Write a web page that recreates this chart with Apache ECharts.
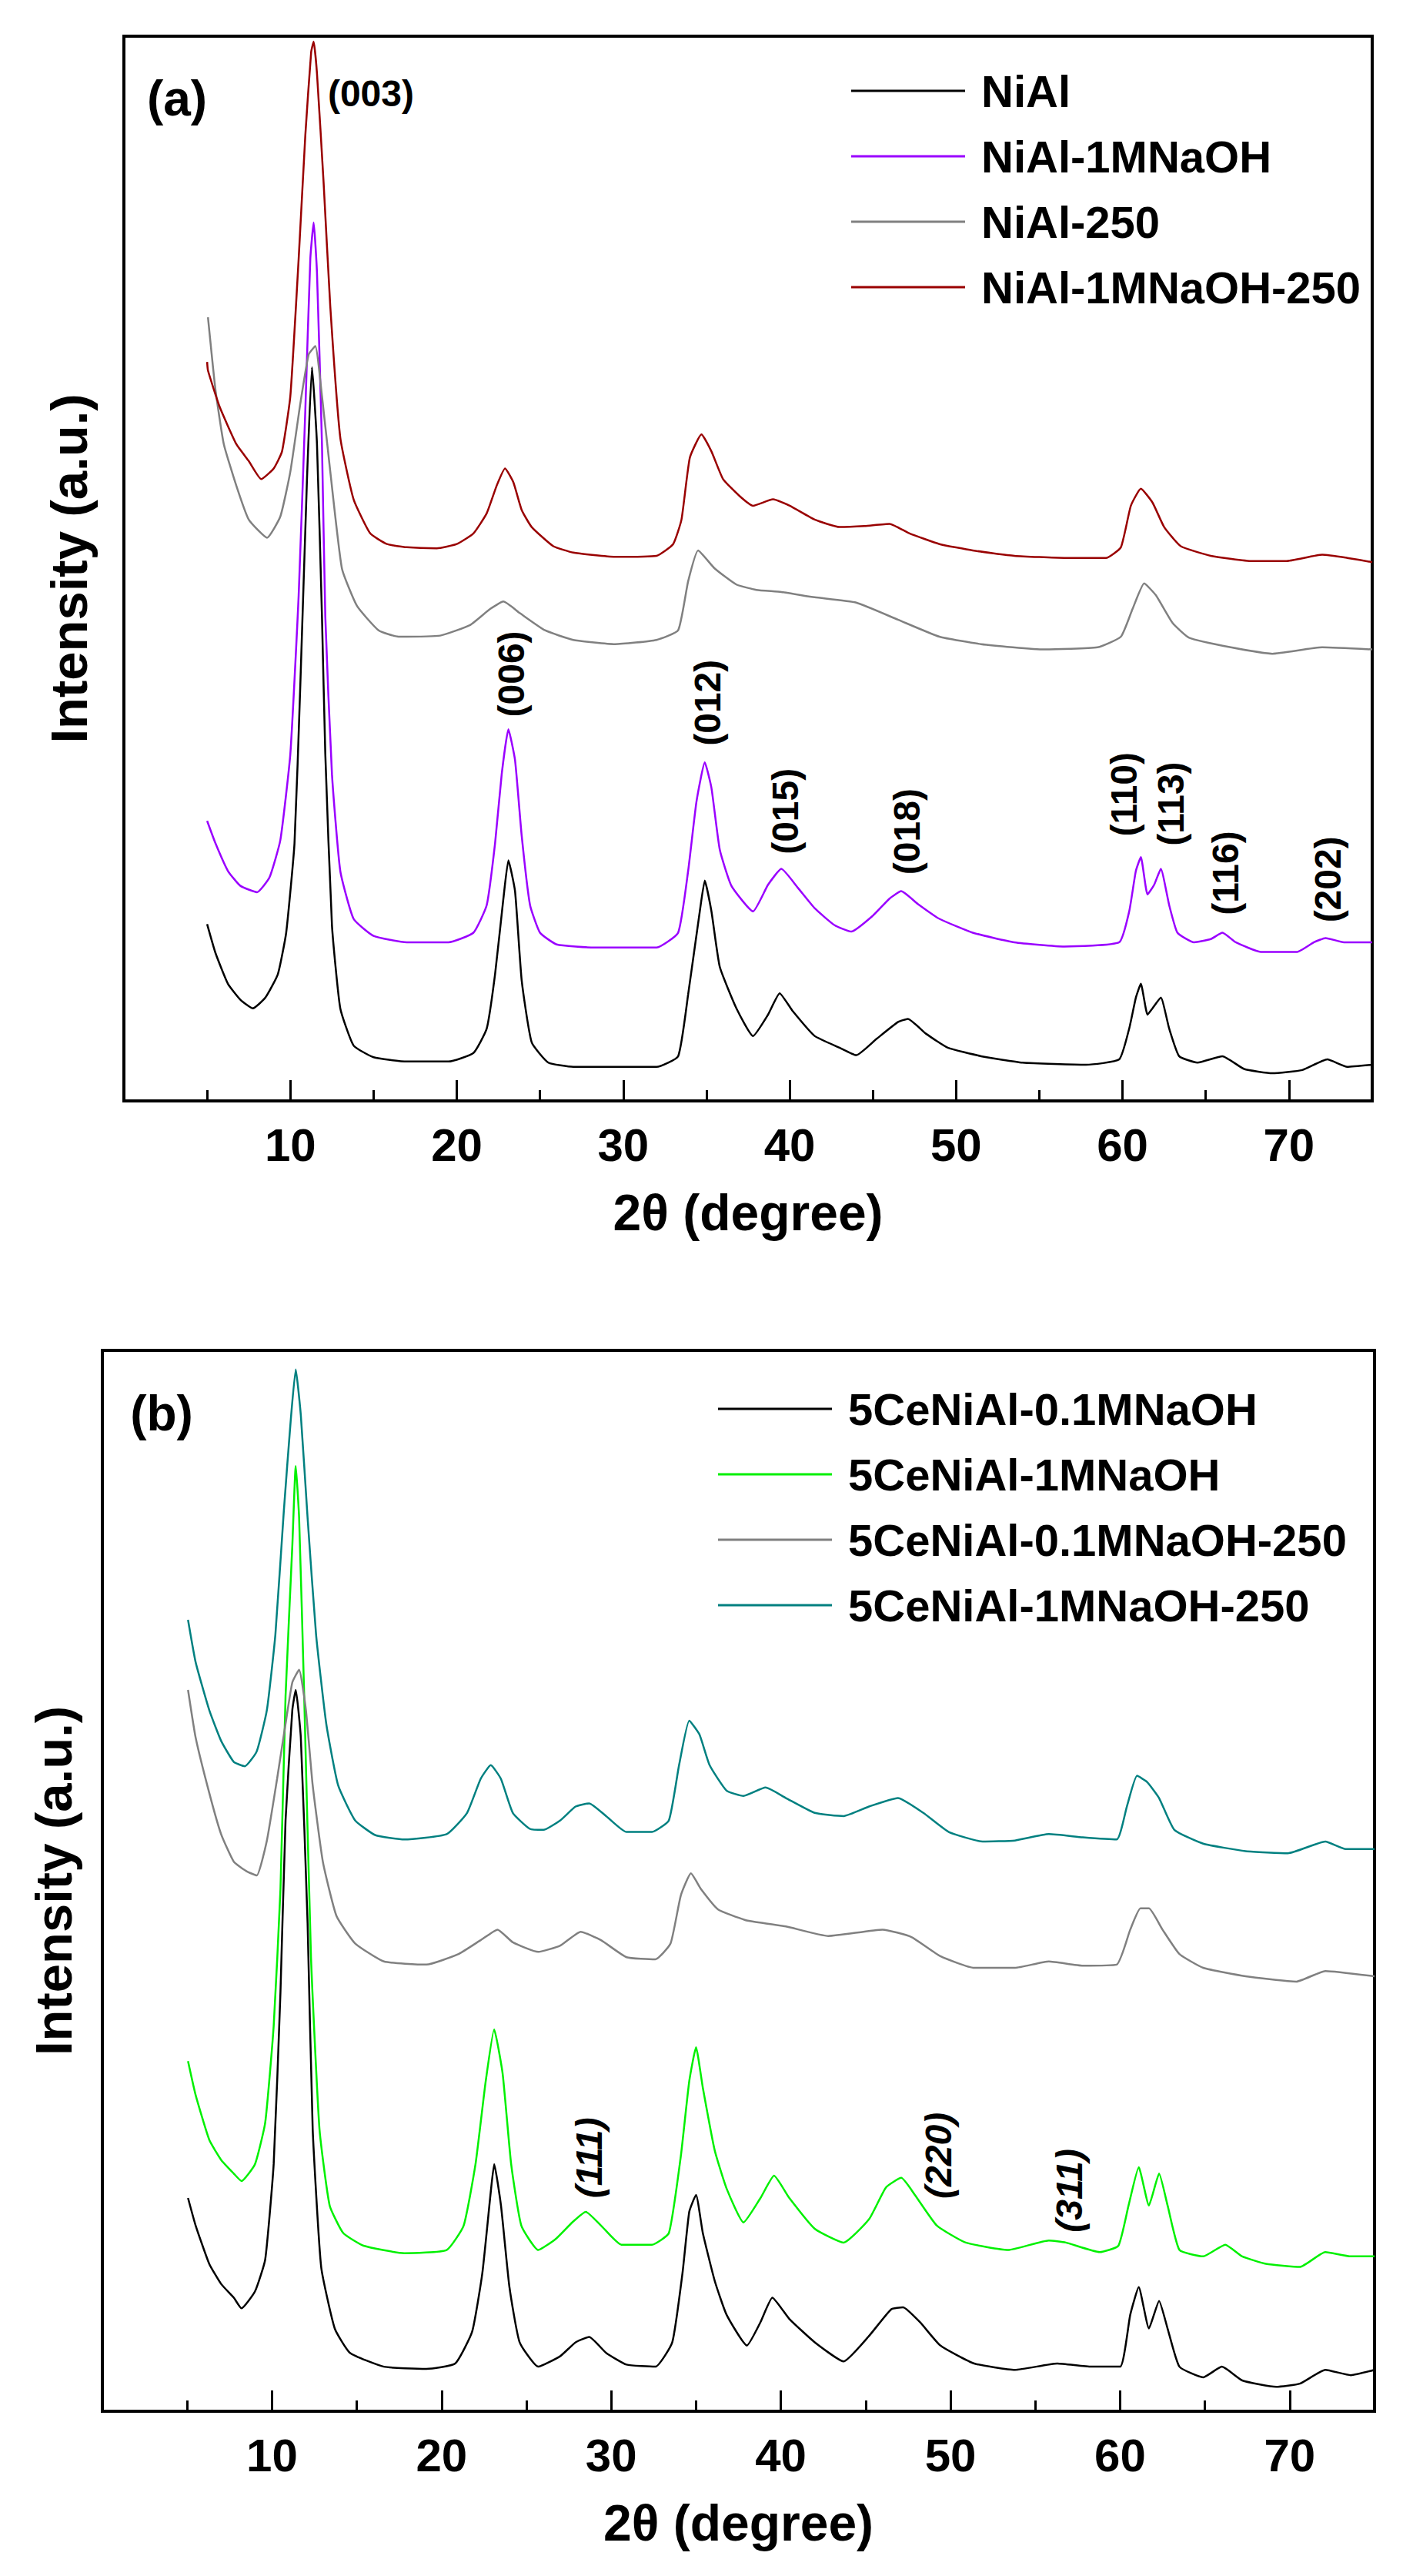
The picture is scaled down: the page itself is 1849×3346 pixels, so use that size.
<!DOCTYPE html>
<html>
<head>
<meta charset="utf-8">
<script src="https://cdn.jsdelivr.net/npm/echarts@6/dist/echarts.min.js"></script>
<style>
  html, body { margin: 0; padding: 0; background: #fff; }
  #xrd { width: 1849px; height: 3346px; }
</style>
</head>
<body>
<div id="xrd"></div>
<script>
// panel (a): [2theta, intensity], offset stack in plot %
var niAl = [[5.0,16.6],[5.5,13.9],[6.25,11.0],[7.0,9.5],[7.75,8.7],[8.5,9.7],[9.25,11.9],[9.75,15.8],[10.25,24.2],[10.6,39.1],[11.0,58.4],[11.3,68.9],[11.6,61.7],[11.9,45.5],[12.1,32.6],[12.5,16.5],[13.0,8.7],[13.8,5.2],[15.0,4.1],[17.0,3.7],[19.5,3.7],[21.0,4.5],[21.8,6.8],[22.3,11.9],[22.8,19.0],[23.1,22.6],[23.5,19.7],[23.9,11.3],[24.5,5.5],[25.5,3.6],[27.0,3.2],[32.0,3.2],[33.3,4.2],[33.9,10.0],[34.6,17.8],[34.9,20.7],[35.3,17.8],[35.8,12.6],[36.8,8.7],[37.8,6.1],[38.7,8.1],[39.4,10.1],[40.2,8.4],[41.5,6.1],[43.0,5.0],[44.0,4.3],[45.2,5.8],[46.5,7.4],[47.1,7.7],[48.2,6.3],[49.5,5.0],[51.5,4.2],[54.0,3.6],[57.8,3.4],[59.8,3.9],[60.4,6.8],[60.8,9.7],[61.1,11.0],[61.5,8.1],[61.8,8.7],[62.3,9.7],[62.8,6.8],[63.4,4.2],[64.5,3.6],[66.0,4.2],[67.3,3.0],[69.0,2.6],[70.8,2.9],[72.3,3.9],[73.5,3.2],[75.0,3.4]];
var niAlNaOH = [[5.0,26.3],[5.5,24.2],[6.25,21.6],[7.0,20.2],[8.0,19.6],[8.75,21.0],[9.4,24.5],[10.0,32.6],[10.5,47.5],[10.9,64.9],[11.2,79.1],[11.4,82.5],[11.6,77.8],[11.9,61.7],[12.1,45.5],[12.5,30.7],[13.0,21.6],[13.8,17.1],[15.0,15.5],[17.0,14.9],[19.5,14.9],[21.0,15.8],[21.8,18.4],[22.3,24.2],[22.7,30.7],[23.1,34.9],[23.5,32.0],[23.9,24.9],[24.4,18.4],[25.0,15.8],[26.0,14.7],[28.3,14.4],[32.0,14.4],[33.3,15.8],[33.9,21.6],[34.4,28.1],[34.9,31.8],[35.3,29.4],[35.8,23.6],[36.5,20.2],[37.8,17.8],[38.7,20.3],[39.5,21.8],[40.5,20.0],[41.5,18.1],[42.7,16.5],[43.7,15.9],[45.0,17.4],[46.0,19.0],[46.7,19.7],[47.7,18.5],[49.0,17.1],[51.0,15.8],[53.5,14.9],[56.5,14.5],[59.8,14.9],[60.4,17.8],[60.8,21.6],[61.1,22.9],[61.5,19.4],[61.9,20.3],[62.3,21.8],[62.8,18.4],[63.3,15.8],[64.3,14.9],[65.3,15.2],[66.0,15.8],[66.8,14.9],[68.3,14.0],[70.5,14.0],[71.5,14.9],[72.2,15.3],[73.3,14.9],[75.0,14.9]];
var niAl250 = [[5.05,73.6],[5.5,66.8],[6.0,61.7],[6.75,57.8],[7.5,54.6],[8.6,52.9],[9.4,54.9],[10.0,59.1],[10.6,65.5],[11.1,70.1],[11.5,70.9],[11.9,66.2],[12.4,59.1],[13.1,50.0],[14.0,46.5],[15.3,44.2],[16.5,43.6],[19.0,43.7],[20.8,44.7],[22.0,46.2],[22.8,46.9],[23.8,45.8],[25.3,44.2],[27.0,43.3],[29.5,42.9],[32.0,43.3],[33.3,44.2],[33.9,48.8],[34.5,51.7],[35.5,50.0],[36.8,48.5],[38.0,48.0],[39.5,47.8],[41.5,47.3],[44.0,46.8],[46.5,45.2],[49.0,43.6],[51.5,42.9],[55.3,42.4],[58.5,42.6],[59.9,43.6],[60.6,46.2],[61.3,48.6],[62.0,47.5],[63.0,44.9],[64.0,43.5],[66.5,42.6],[69.0,42.0],[72.0,42.6],[75.0,42.4]];
var niAlNaOH250 = [[5.0,69.4],[5.05,68.6],[5.75,65.2],[6.75,61.7],[7.5,60.1],[8.25,58.4],[9.0,59.4],[9.5,61.0],[10.0,66.2],[10.5,79.1],[10.9,90.7],[11.25,98.5],[11.4,99.5],[11.6,96.5],[12.0,86.2],[12.4,74.6],[13.0,62.3],[13.8,56.5],[14.8,53.3],[15.8,52.3],[17.0,52.0],[18.8,51.9],[20.0,52.3],[21.0,53.3],[21.8,55.2],[22.4,57.8],[22.9,59.4],[23.4,58.1],[23.9,55.5],[24.5,53.9],[25.8,52.1],[27.0,51.5],[29.5,51.1],[32.0,51.2],[33.0,52.3],[33.5,54.6],[34.0,60.4],[34.7,62.6],[35.3,61.0],[36.0,58.4],[37.0,56.8],[37.8,55.9],[39.0,56.5],[40.0,55.9],[41.5,54.6],[43.0,53.9],[44.5,54.0],[46.0,54.2],[47.2,53.3],[49.0,52.3],[51.0,51.7],[53.5,51.2],[56.5,51.0],[59.0,51.0],[59.9,52.0],[60.5,55.9],[61.1,57.5],[61.8,56.2],[62.5,53.9],[63.5,52.1],[65.3,51.2],[67.8,50.7],[69.8,50.7],[72.0,51.3],[73.5,51.0],[75.0,50.6]];

// panel (b)
var ce01 = [[5.05,20.1],[5.5,17.5],[6.3,13.9],[7.0,12.0],[7.75,10.7],[8.2,9.7],[9.0,11.3],[9.6,14.3],[10.1,23.3],[10.5,39.5],[10.8,55.7],[11.2,66.1],[11.4,68.0],[11.7,63.5],[12.1,46.0],[12.4,26.6],[12.9,13.6],[13.7,7.8],[14.6,5.5],[16.6,4.2],[19.1,4.0],[20.8,4.5],[21.8,7.5],[22.4,13.0],[22.9,20.7],[23.1,23.3],[23.5,19.4],[24.0,11.7],[24.6,6.5],[25.7,4.2],[27.0,5.2],[27.9,6.5],[28.7,7.0],[29.7,5.5],[30.9,4.4],[32.6,4.2],[33.6,6.5],[34.2,13.0],[34.6,18.8],[35.0,20.4],[35.4,16.8],[36.1,12.3],[36.8,9.1],[38.0,6.2],[38.8,8.4],[39.5,10.7],[40.5,8.7],[42.0,6.5],[43.7,4.7],[45.2,7.1],[46.5,9.6],[47.2,9.8],[48.2,8.4],[49.4,6.2],[51.4,4.5],[53.8,3.9],[56.3,4.5],[58.3,4.2],[60.0,4.2],[60.6,9.1],[61.1,11.7],[61.7,7.8],[62.3,10.4],[62.8,7.8],[63.5,4.2],[64.9,3.2],[66.0,4.2],[67.2,2.9],[69.2,2.3],[70.6,2.6],[72.1,3.9],[73.6,3.4],[75.0,3.9]];
var ce1 = [[5.05,33.0],[5.5,29.8],[6.3,25.6],[7.0,23.7],[7.75,22.4],[8.2,21.7],[9.0,23.3],[9.6,27.2],[10.1,36.3],[10.5,49.2],[10.8,67.4],[11.2,81.6],[11.4,89.1],[11.6,84.2],[11.9,67.4],[12.3,42.8],[12.8,26.6],[13.4,19.4],[14.2,16.8],[15.4,15.6],[17.8,14.9],[20.3,15.2],[21.3,17.5],[22.0,23.3],[22.6,31.1],[23.1,36.0],[23.6,31.8],[24.1,23.3],[24.7,17.5],[25.7,15.2],[26.7,16.2],[27.7,17.8],[28.5,18.8],[29.4,17.5],[30.6,15.7],[32.4,15.7],[33.4,16.8],[34.1,24.0],[34.6,31.1],[35.0,34.3],[35.4,30.5],[36.1,24.6],[36.8,21.0],[37.8,17.8],[38.8,20.1],[39.6,22.2],[40.5,20.1],[42.0,17.2],[43.7,15.9],[45.2,18.1],[46.2,21.1],[47.1,22.0],[47.9,20.4],[49.2,17.5],[50.9,15.9],[53.4,15.2],[55.8,16.1],[56.8,15.9],[58.8,15.0],[59.9,15.6],[60.5,19.4],[61.1,23.0],[61.7,19.4],[62.3,22.4],[62.8,19.4],[63.5,15.2],[64.9,14.6],[66.2,15.7],[67.2,14.6],[68.6,13.9],[70.6,13.6],[72.1,15.0],[73.6,14.6],[75.0,14.6]];
var ce01_250 = [[5.05,68.0],[5.5,63.5],[6.3,58.3],[7.0,54.4],[7.75,51.8],[8.5,50.9],[9.1,50.5],[9.7,53.8],[10.3,59.6],[10.8,64.8],[11.2,68.7],[11.6,69.9],[12.0,66.1],[12.4,59.0],[13.0,51.8],[13.8,46.7],[14.9,44.1],[16.6,42.4],[19.1,42.1],[21.0,43.1],[22.3,44.4],[23.3,45.4],[24.2,44.2],[25.7,43.3],[27.0,43.9],[28.2,45.2],[29.4,44.4],[30.9,42.8],[32.6,42.6],[33.5,44.1],[34.1,48.6],[34.7,50.7],[35.3,49.2],[36.3,47.3],[37.9,46.3],[38.6,46.1],[40.3,45.7],[42.8,44.8],[46.0,45.4],[47.7,44.7],[49.4,42.9],[51.4,41.8],[53.8,41.8],[55.8,42.4],[57.8,42.0],[59.8,42.1],[60.6,45.4],[61.2,47.4],[61.7,47.4],[62.5,45.4],[63.5,43.1],[64.9,41.8],[67.4,41.0],[70.4,40.5],[72.1,41.5],[75.0,41.0]];
var ce1_250 = [[5.05,74.6],[5.5,70.6],[6.3,66.1],[7.0,63.2],[7.75,61.2],[8.4,60.8],[9.1,62.2],[9.7,66.1],[10.2,73.2],[10.7,84.9],[11.1,93.3],[11.4,98.2],[11.7,93.9],[12.1,84.2],[12.6,73.2],[13.2,64.8],[13.9,59.0],[14.9,55.7],[16.1,54.3],[17.8,53.9],[20.3,54.4],[21.5,56.4],[22.3,59.6],[22.9,60.9],[23.5,59.6],[24.2,56.4],[25.2,54.9],[26.0,54.8],[27.0,55.7],[27.9,57.0],[28.7,57.3],[29.7,56.1],[30.9,54.6],[32.4,54.6],[33.4,55.7],[34.0,60.9],[34.6,65.1],[35.2,63.8],[35.8,60.9],[36.8,58.5],[37.8,58.0],[39.1,58.8],[40.3,57.8],[42.0,56.4],[43.7,56.1],[45.2,57.0],[46.9,57.8],[48.4,56.4],[49.9,54.6],[51.9,53.7],[53.8,53.8],[55.8,54.4],[57.8,54.1],[59.8,53.9],[60.4,57.0],[61.0,59.9],[61.6,59.3],[62.3,57.8],[63.2,54.8],[64.9,53.5],[67.4,52.8],[69.9,52.6],[72.1,53.7],[73.3,53.0],[75.0,53.0]];

var namesA = ['NiAl', 'NiAl-1MNaOH', 'NiAl-250', 'NiAl-1MNaOH-250'];
var namesB = ['5CeNiAl-0.1MNaOH', '5CeNiAl-1MNaOH', '5CeNiAl-0.1MNaOH-250', '5CeNiAl-1MNaOH-250'];
var colorsA = ['#000000', '#9a00ff', '#808080', '#990000'];
var colorsB = ['#000000', '#00f000', '#808080', '#008080'];

// reflection labels: [text, 2theta, intensity]
var peaksA = [['(006)',23.3,40.1],['(012)',35.07,37.4],['(015)',39.74,27.2],['(018)',47.07,25.3],['(110)',60.1,28.8],['(113)',62.9,27.9],['(116)',66.2,21.4],['(202)',72.35,20.8]];
var peak003 = [['(003)',14.84,94.6]];
var peaksB = [['(111)',28.7,23.9],['(220)',49.3,24.1],['(311)',57.0,20.8]];

var xTicks = [10, 20, 30, 40, 50, 60, 70];

var FONT = "'Liberation Sans', Arial, sans-serif";

var chart = echarts.init(document.getElementById('xrd'), null, { renderer: 'svg' });

function majorAxis(grid) {
	return {
		type: 'value', gridIndex: grid, position: 'bottom',
		min: 0, max: 75, interval: 10,
		axisLine: { show: false },
		axisTick: { inside: true, length: 27, lineStyle: { color: '#000', width: 3 } },
		axisLabel: {
			margin: 27, color: '#000', fontSize: 60, fontWeight: 'bold', fontFamily: FONT,
			formatter: function(v) { return xTicks.indexOf(v) >= 0 ? String(v) : ''; }
		},
		splitLine: { show: false },
		name: '2\u03b8 (degree)', nameLocation: 'middle', nameGap: 112,
		nameTextStyle: { color: '#000', fontSize: 66, fontWeight: 'bold', fontFamily: FONT }
	};
}
function minorAxis(grid) {
	return {
		type: 'value', gridIndex: grid, position: 'bottom',
		min: 0, max: 75, interval: 5,
		axisLine: { show: false },
		axisTick: { inside: true, length: 14, lineStyle: { color: '#000', width: 3 } },
		axisLabel: { show: false },
		splitLine: { show: false }
	};
}
function yAxis(grid, gap) {
	return {
		type: 'value', gridIndex: grid, min: 0, max: 100,
		axisLine: { show: false }, axisTick: { show: false }, axisLabel: { show: false },
		splitLine: { show: false },
		name: 'Intensity (a.u.)', nameLocation: 'middle', nameGap: gap,
		nameTextStyle: { color: '#000', fontSize: 67, fontWeight: 'bold', fontFamily: FONT }
	};
}
function lineSeries(name, data, color, xi, yi) {
	return {
		name: name, type: 'line', data: data, xAxisIndex: xi, yAxisIndex: yi,
		showSymbol: false, smooth: 0.15, animation: false,
		lineStyle: { color: color, width: 2.5 }, itemStyle: { color: color }
	};
}
function labelSeries(list, xi, yi, rotate, italic, size) {
	return {
		type: 'scatter', xAxisIndex: xi, yAxisIndex: yi, symbolSize: 0, animation: false,
		silent: true,
		itemStyle: { color: '#000', opacity: 1 },
		data: list.map(function(p) { return { value: [p[1], p[2]], name: p[0] }; }),
		label: {
			show: true, position: 'inside', rotate: rotate, formatter: '{b}',
			color: '#000', opacity: 1, textBorderWidth: 0, fontSize: size, fontWeight: 'bold',
			fontStyle: italic ? 'italic' : 'normal', fontFamily: FONT
		}
	};
}
function legendFor(names, colors, left, top) {
	return {
		orient: 'vertical', left: left, top: top,
		itemWidth: 148, itemHeight: 3, itemGap: 19, icon: 'rect',
		data: names.map(function(n, i) { return { name: n, itemStyle: { color: colors[i] } }; }),
		textStyle: { color: '#000', fontSize: 58, lineHeight: 66, fontWeight: 'bold', fontFamily: FONT, padding: [0, 0, 0, 16] }
	};
}

var seriesList = [];
[niAl, niAlNaOH, niAl250, niAlNaOH250].forEach(function(d, i) {
	seriesList.push(lineSeries(namesA[i], d, colorsA[i], 0, 0));
});
[ce01, ce1, ce01_250, ce1_250].forEach(function(d, i) {
	seriesList.push(lineSeries(namesB[i], d, colorsB[i], 2, 1));
});
seriesList.push(labelSeries(peaksA, 0, 0, 90, false, 48));
seriesList.push(labelSeries(peak003, 0, 0, 0, false, 48));
seriesList.push(labelSeries(peaksB, 2, 1, 90, true, 48));

var option = {
	backgroundColor: '#fff',
	animation: false,
	grid: [
		{ left: 161, top: 47, width: 1622, height: 1383, show: true, borderColor: '#000', borderWidth: 4, backgroundColor: 'transparent' },
		{ left: 133, top: 1754, width: 1653, height: 1378, show: true, borderColor: '#000', borderWidth: 4, backgroundColor: 'transparent' }
	],
	xAxis: [majorAxis(0), minorAxis(0), majorAxis(1), minorAxis(1)],
	yAxis: [yAxis(0, 38), yAxis(1, 30)],
	legend: [legendFor(namesA, colorsA, 1101, 80), legendFor(namesB, colorsB, 928, 1792)],
	graphic: [
		{ type: 'text', x: 230, y: 128, style: { text: '(a)', fill: '#000', font: 'bold 64px ' + FONT, align: 'center', verticalAlign: 'middle' } },
		{ type: 'text', x: 210, y: 1836, style: { text: '(b)', fill: '#000', font: 'bold 64px ' + FONT, align: 'center', verticalAlign: 'middle' } }
	],
	series: seriesList
};

chart.setOption(option);
</script>
</body>
</html>
